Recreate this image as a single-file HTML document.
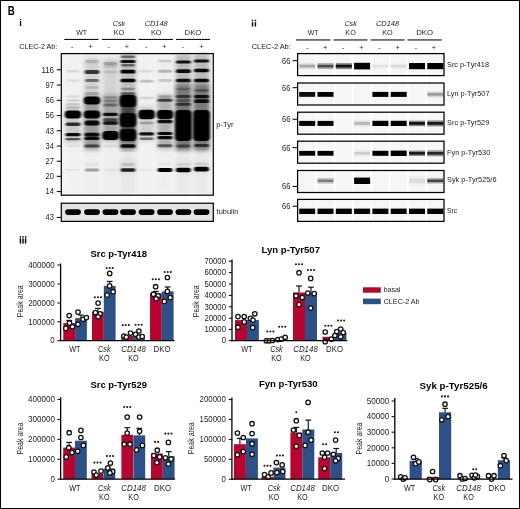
<!DOCTYPE html><html><head><meta charset="utf-8"><style>html,body{margin:0;padding:0;background:#fff;}svg{display:block;}text{font-family:"Liberation Sans",sans-serif;}</style></head><body>
<svg width="520" height="509" viewBox="0 0 520 509">
<defs><filter id="b1" x="-40%" y="-150%" width="180%" height="400%"><feGaussianBlur stdDeviation="1.0 0.6"/></filter><filter id="b2" x="-40%" y="-20%" width="180%" height="140%"><feGaussianBlur stdDeviation="2.0 2.0"/></filter><filter id="bw" x="-10%" y="-100%" width="120%" height="300%"><feGaussianBlur stdDeviation="0.45 0.75"/></filter></defs>
<rect x="0" y="0" width="520" height="509" fill="#fff"/>
<text x="7.80" y="15.40" font-size="12.2" font-weight="bold" textLength="7.00" lengthAdjust="spacingAndGlyphs" fill="#000">B</text>
<text x="19.30" y="25.80" font-size="9.4" font-weight="bold" fill="#000">i</text>
<rect x="251.78" y="19.75" width="1.45" height="1.5" fill="#000"/>
<rect x="251.78" y="22.20" width="1.45" height="4.30" fill="#000"/>
<rect x="254.68" y="19.75" width="1.45" height="1.5" fill="#000"/>
<rect x="254.68" y="22.20" width="1.45" height="4.30" fill="#000"/>
<rect x="19.70" y="236.15" width="1.40" height="1.5" fill="#000"/>
<rect x="19.70" y="238.30" width="1.40" height="5.30" fill="#000"/>
<rect x="22.30" y="236.15" width="1.40" height="1.5" fill="#000"/>
<rect x="22.30" y="238.30" width="1.40" height="5.30" fill="#000"/>
<rect x="24.90" y="236.15" width="1.40" height="1.5" fill="#000"/>
<rect x="24.90" y="238.30" width="1.40" height="5.30" fill="#000"/>
<text x="81.60" y="34.60" font-size="7.9" text-anchor="middle" textLength="10.80" lengthAdjust="spacingAndGlyphs" fill="#222">WT</text>
<rect x="64.30" y="38.90" width="34.20" height="1.1" fill="#111"/>
<text x="119.00" y="26.10" font-size="7.9" text-anchor="middle" font-style="italic" textLength="12.40" lengthAdjust="spacingAndGlyphs" fill="#222">Csk</text>
<text x="119.00" y="34.60" font-size="7.9" text-anchor="middle" textLength="10.50" lengthAdjust="spacingAndGlyphs" fill="#222">KO</text>
<rect x="102.00" y="38.90" width="33.80" height="1.1" fill="#111"/>
<text x="156.20" y="26.10" font-size="7.9" text-anchor="middle" font-style="italic" textLength="23.10" lengthAdjust="spacingAndGlyphs" fill="#222">CD148</text>
<text x="156.20" y="34.60" font-size="7.9" text-anchor="middle" textLength="10.50" lengthAdjust="spacingAndGlyphs" fill="#222">KO</text>
<rect x="138.50" y="38.90" width="34.40" height="1.1" fill="#111"/>
<text x="193.00" y="34.60" font-size="7.9" text-anchor="middle" textLength="16.80" lengthAdjust="spacingAndGlyphs" fill="#222">DKO</text>
<rect x="176.00" y="38.90" width="34.00" height="1.1" fill="#111"/>
<text x="19.20" y="48.90" font-size="8.0" textLength="38.20" lengthAdjust="spacingAndGlyphs" fill="#222">CLEC-2 Ab:</text>
<text x="72.30" y="49.00" font-size="7.4" text-anchor="middle" fill="#222">-</text>
<text x="90.70" y="49.00" font-size="7.4" text-anchor="middle" fill="#222">+</text>
<text x="108.80" y="49.00" font-size="7.4" text-anchor="middle" fill="#222">-</text>
<text x="127.00" y="49.00" font-size="7.4" text-anchor="middle" fill="#222">+</text>
<text x="146.40" y="49.00" font-size="7.4" text-anchor="middle" fill="#222">-</text>
<text x="164.50" y="49.00" font-size="7.4" text-anchor="middle" fill="#222">+</text>
<text x="183.00" y="49.00" font-size="7.4" text-anchor="middle" fill="#222">-</text>
<text x="201.30" y="49.00" font-size="7.4" text-anchor="middle" fill="#222">+</text>
<rect x="61.3" y="53.6" width="152.0" height="141.6" fill="#f3f3f3"/>
<rect x="65.50" y="54.60" width="15" height="139.60" fill="rgb(241,241,241)" filter="url(#b2)" opacity="0.8"/>
<rect x="84.50" y="54.60" width="15" height="139.60" fill="rgb(237,237,237)" filter="url(#b2)" opacity="0.8"/>
<rect x="103.00" y="54.60" width="15" height="139.60" fill="rgb(237,237,237)" filter="url(#b2)" opacity="0.8"/>
<rect x="120.50" y="54.60" width="15" height="139.60" fill="rgb(231,231,231)" filter="url(#b2)" opacity="0.8"/>
<rect x="139.10" y="54.60" width="15" height="139.60" fill="rgb(241,241,241)" filter="url(#b2)" opacity="0.8"/>
<rect x="157.50" y="54.60" width="15" height="139.60" fill="rgb(238,238,238)" filter="url(#b2)" opacity="0.8"/>
<rect x="175.90" y="54.60" width="15" height="139.60" fill="rgb(232,232,232)" filter="url(#b2)" opacity="0.8"/>
<rect x="194.00" y="54.60" width="15" height="139.60" fill="rgb(232,232,232)" filter="url(#b2)" opacity="0.8"/>
<rect x="65.50" y="106.00" width="15" height="37.00" fill="rgb(201,201,201)" filter="url(#b2)"/>
<rect x="84.50" y="58.00" width="15" height="92.00" fill="rgb(210,210,210)" filter="url(#b2)"/>
<rect x="84.50" y="95.00" width="15" height="54.00" fill="rgb(155,155,155)" filter="url(#b2)"/>
<rect x="103.00" y="58.00" width="15" height="52.00" fill="rgb(210,210,210)" filter="url(#b2)"/>
<rect x="103.00" y="95.00" width="15" height="46.00" fill="rgb(163,163,163)" filter="url(#b2)"/>
<rect x="120.50" y="54.00" width="15" height="96.00" fill="rgb(191,191,191)" filter="url(#b2)"/>
<rect x="120.50" y="95.00" width="15" height="48.00" fill="rgb(67,67,67)" filter="url(#b2)"/>
<rect x="120.50" y="143.00" width="15" height="7.00" fill="rgb(143,143,143)" filter="url(#b2)"/>
<rect x="139.10" y="106.00" width="15" height="35.00" fill="rgb(206,206,206)" filter="url(#b2)"/>
<rect x="157.50" y="95.00" width="15" height="54.00" fill="rgb(179,179,179)" filter="url(#b2)"/>
<rect x="175.90" y="54.00" width="15" height="96.00" fill="rgb(186,186,186)" filter="url(#b2)"/>
<rect x="175.90" y="84.00" width="15" height="66.00" fill="rgb(120,120,120)" filter="url(#b2)"/>
<rect x="194.00" y="54.00" width="15" height="96.00" fill="rgb(186,186,186)" filter="url(#b2)"/>
<rect x="194.00" y="84.00" width="15" height="66.00" fill="rgb(120,120,120)" filter="url(#b2)"/>
<rect x="120.50" y="160.00" width="15" height="14.00" fill="rgb(220,220,220)" filter="url(#b2)"/>
<rect x="175.90" y="160.00" width="15" height="14.00" fill="rgb(225,225,225)" filter="url(#b2)"/>
<rect x="194.00" y="160.00" width="15" height="14.00" fill="rgb(225,225,225)" filter="url(#b2)"/>
<rect x="66.00" y="69.95" width="14.00" height="2.50" rx="1.25" fill="rgb(231,231,231)" filter="url(#b1)" style="mix-blend-mode:multiply"/>
<rect x="66.00" y="79.25" width="14.00" height="2.50" rx="1.25" fill="rgb(235,235,235)" filter="url(#b1)" style="mix-blend-mode:multiply"/>
<rect x="66.00" y="95.35" width="14.00" height="2.50" rx="1.25" fill="rgb(231,231,231)" filter="url(#b1)" style="mix-blend-mode:multiply"/>
<rect x="66.00" y="99.25" width="14.00" height="2.50" rx="1.25" fill="rgb(222,222,222)" filter="url(#b1)" style="mix-blend-mode:multiply"/>
<rect x="66.00" y="103.05" width="14.00" height="2.50" rx="1.25" fill="rgb(218,218,218)" filter="url(#b1)" style="mix-blend-mode:multiply"/>
<rect x="66.00" y="106.40" width="14.00" height="2.00" rx="1.00" fill="rgb(214,214,214)" filter="url(#b1)" style="mix-blend-mode:multiply"/>
<rect x="64.75" y="110.40" width="16.50" height="8.00" rx="4.00" fill="rgb(0,0,0)" filter="url(#b1)" style="mix-blend-mode:multiply"/>
<rect x="65.50" y="122.40" width="15.00" height="3.60" rx="1.80" fill="rgb(56,56,56)" filter="url(#b1)" style="mix-blend-mode:multiply"/>
<rect x="65.50" y="133.00" width="15.00" height="3.20" rx="1.60" fill="rgb(12,12,12)" filter="url(#b1)" style="mix-blend-mode:multiply"/>
<rect x="65.50" y="138.10" width="15.00" height="2.20" rx="1.10" fill="rgb(102,102,102)" filter="url(#b1)" style="mix-blend-mode:multiply"/>
<rect x="66.00" y="145.00" width="14.00" height="2.00" rx="1.00" fill="rgb(239,239,239)" filter="url(#b1)" style="mix-blend-mode:multiply"/>
<rect x="66.00" y="169.00" width="14.00" height="2.00" rx="1.00" fill="rgb(243,243,243)" filter="url(#b1)" style="mix-blend-mode:multiply"/>
<rect x="85.00" y="59.75" width="14.00" height="3.50" rx="1.75" fill="rgb(214,214,214)" filter="url(#b1)" style="mix-blend-mode:multiply"/>
<rect x="84.50" y="69.90" width="15.00" height="4.20" rx="2.10" fill="rgb(64,64,64)" filter="url(#b1)" style="mix-blend-mode:multiply"/>
<rect x="85.00" y="79.00" width="14.00" height="3.00" rx="1.50" fill="rgb(128,128,128)" filter="url(#b1)" style="mix-blend-mode:multiply"/>
<rect x="85.00" y="86.15" width="14.00" height="2.50" rx="1.25" fill="rgb(218,218,218)" filter="url(#b1)" style="mix-blend-mode:multiply"/>
<rect x="85.00" y="92.25" width="14.00" height="2.50" rx="1.25" fill="rgb(204,204,204)" filter="url(#b1)" style="mix-blend-mode:multiply"/>
<rect x="83.75" y="96.60" width="16.50" height="8.00" rx="4.00" fill="rgb(0,0,0)" filter="url(#b1)" style="mix-blend-mode:multiply"/>
<rect x="83.75" y="110.40" width="16.50" height="8.00" rx="4.00" fill="rgb(0,0,0)" filter="url(#b1)" style="mix-blend-mode:multiply"/>
<rect x="84.50" y="120.50" width="15.00" height="5.00" rx="2.50" fill="rgb(13,13,13)" filter="url(#b1)" style="mix-blend-mode:multiply"/>
<rect x="84.50" y="132.75" width="15.00" height="3.70" rx="1.85" fill="rgb(12,12,12)" filter="url(#b1)" style="mix-blend-mode:multiply"/>
<rect x="84.50" y="136.80" width="15.00" height="3.20" rx="1.60" fill="rgb(17,17,17)" filter="url(#b1)" style="mix-blend-mode:multiply"/>
<rect x="84.50" y="144.50" width="15.00" height="3.00" rx="1.50" fill="rgb(102,102,102)" filter="url(#b1)" style="mix-blend-mode:multiply"/>
<rect x="85.00" y="163.35" width="14.00" height="2.50" rx="1.25" fill="rgb(243,243,243)" filter="url(#b1)" style="mix-blend-mode:multiply"/>
<rect x="85.00" y="168.50" width="14.00" height="3.00" rx="1.50" fill="rgb(169,169,169)" filter="url(#b1)" style="mix-blend-mode:multiply"/>
<rect x="103.50" y="62.05" width="14.00" height="3.50" rx="1.75" fill="rgb(190,190,190)" filter="url(#b1)" style="mix-blend-mode:multiply"/>
<rect x="103.50" y="65.80" width="14.00" height="2.00" rx="1.00" fill="rgb(224,224,224)" filter="url(#b1)" style="mix-blend-mode:multiply"/>
<rect x="103.50" y="70.75" width="14.00" height="2.50" rx="1.25" fill="rgb(224,224,224)" filter="url(#b1)" style="mix-blend-mode:multiply"/>
<rect x="103.50" y="96.15" width="14.00" height="2.50" rx="1.25" fill="rgb(204,204,204)" filter="url(#b1)" style="mix-blend-mode:multiply"/>
<rect x="103.50" y="99.75" width="14.00" height="2.50" rx="1.25" fill="rgb(184,184,184)" filter="url(#b1)" style="mix-blend-mode:multiply"/>
<rect x="103.50" y="103.50" width="14.00" height="3.00" rx="1.50" fill="rgb(157,157,157)" filter="url(#b1)" style="mix-blend-mode:multiply"/>
<rect x="103.00" y="112.80" width="15.00" height="3.20" rx="1.60" fill="rgb(25,25,25)" filter="url(#b1)" style="mix-blend-mode:multiply"/>
<rect x="103.00" y="118.20" width="15.00" height="3.00" rx="1.50" fill="rgb(102,102,102)" filter="url(#b1)" style="mix-blend-mode:multiply"/>
<rect x="103.00" y="121.15" width="15.00" height="3.70" rx="1.85" fill="rgb(25,25,25)" filter="url(#b1)" style="mix-blend-mode:multiply"/>
<rect x="102.25" y="130.90" width="16.50" height="9.00" rx="4.00" fill="rgb(0,0,0)" filter="url(#b1)" style="mix-blend-mode:multiply"/>
<rect x="103.50" y="144.75" width="14.00" height="2.50" rx="1.25" fill="rgb(231,231,231)" filter="url(#b1)" style="mix-blend-mode:multiply"/>
<rect x="103.50" y="168.75" width="14.00" height="2.50" rx="1.25" fill="rgb(241,241,241)" filter="url(#b1)" style="mix-blend-mode:multiply"/>
<rect x="121.00" y="55.55" width="14.00" height="2.50" rx="1.25" fill="rgb(128,128,128)" filter="url(#b1)" style="mix-blend-mode:multiply"/>
<rect x="120.50" y="59.90" width="15.00" height="3.20" rx="1.60" fill="rgb(17,17,17)" filter="url(#b1)" style="mix-blend-mode:multiply"/>
<rect x="121.00" y="63.95" width="14.00" height="2.50" rx="1.25" fill="rgb(128,128,128)" filter="url(#b1)" style="mix-blend-mode:multiply"/>
<rect x="120.50" y="69.85" width="15.00" height="3.70" rx="1.85" fill="rgb(6,6,6)" filter="url(#b1)" style="mix-blend-mode:multiply"/>
<rect x="120.50" y="78.65" width="15.00" height="3.70" rx="1.85" fill="rgb(6,6,6)" filter="url(#b1)" style="mix-blend-mode:multiply"/>
<rect x="121.00" y="87.75" width="14.00" height="2.50" rx="1.25" fill="rgb(184,184,184)" filter="url(#b1)" style="mix-blend-mode:multiply"/>
<rect x="121.00" y="92.25" width="14.00" height="2.50" rx="1.25" fill="rgb(128,128,128)" filter="url(#b1)" style="mix-blend-mode:multiply"/>
<rect x="119.75" y="95.00" width="16.50" height="12.00" rx="4.00" fill="rgb(0,0,0)" filter="url(#b1)" style="mix-blend-mode:multiply"/>
<rect x="119.75" y="113.00" width="16.50" height="14.00" rx="4.00" fill="rgb(0,0,0)" filter="url(#b1)" style="mix-blend-mode:multiply"/>
<rect x="119.75" y="129.00" width="16.50" height="12.00" rx="4.00" fill="rgb(0,0,0)" filter="url(#b1)" style="mix-blend-mode:multiply"/>
<rect x="120.50" y="144.15" width="15.00" height="3.70" rx="1.85" fill="rgb(17,17,17)" filter="url(#b1)" style="mix-blend-mode:multiply"/>
<rect x="121.00" y="163.10" width="14.00" height="3.00" rx="1.50" fill="rgb(224,224,224)" filter="url(#b1)" style="mix-blend-mode:multiply"/>
<rect x="120.50" y="168.15" width="15.00" height="3.70" rx="1.85" fill="rgb(33,33,33)" filter="url(#b1)" style="mix-blend-mode:multiply"/>
<rect x="139.60" y="69.95" width="14.00" height="2.50" rx="1.25" fill="rgb(231,231,231)" filter="url(#b1)" style="mix-blend-mode:multiply"/>
<rect x="139.60" y="79.70" width="14.00" height="3.00" rx="1.50" fill="rgb(204,204,204)" filter="url(#b1)" style="mix-blend-mode:multiply"/>
<rect x="139.60" y="96.75" width="14.00" height="2.50" rx="1.25" fill="rgb(224,224,224)" filter="url(#b1)" style="mix-blend-mode:multiply"/>
<rect x="138.35" y="109.65" width="16.50" height="9.50" rx="4.00" fill="rgb(0,0,0)" filter="url(#b1)" style="mix-blend-mode:multiply"/>
<rect x="139.60" y="121.75" width="14.00" height="2.50" rx="1.25" fill="rgb(194,194,194)" filter="url(#b1)" style="mix-blend-mode:multiply"/>
<rect x="139.10" y="132.20" width="15.00" height="3.20" rx="1.60" fill="rgb(25,25,25)" filter="url(#b1)" style="mix-blend-mode:multiply"/>
<rect x="139.60" y="137.55" width="14.00" height="2.50" rx="1.25" fill="rgb(128,128,128)" filter="url(#b1)" style="mix-blend-mode:multiply"/>
<rect x="139.60" y="169.00" width="14.00" height="2.00" rx="1.00" fill="rgb(243,243,243)" filter="url(#b1)" style="mix-blend-mode:multiply"/>
<rect x="158.00" y="59.75" width="14.00" height="2.50" rx="1.25" fill="rgb(214,214,214)" filter="url(#b1)" style="mix-blend-mode:multiply"/>
<rect x="158.00" y="69.70" width="14.00" height="3.00" rx="1.50" fill="rgb(194,194,194)" filter="url(#b1)" style="mix-blend-mode:multiply"/>
<rect x="158.00" y="79.00" width="14.00" height="3.00" rx="1.50" fill="rgb(214,214,214)" filter="url(#b1)" style="mix-blend-mode:multiply"/>
<rect x="158.00" y="95.35" width="14.00" height="2.50" rx="1.25" fill="rgb(204,204,204)" filter="url(#b1)" style="mix-blend-mode:multiply"/>
<rect x="157.50" y="98.70" width="15.00" height="3.00" rx="1.50" fill="rgb(89,89,89)" filter="url(#b1)" style="mix-blend-mode:multiply"/>
<rect x="156.75" y="109.90" width="16.50" height="9.00" rx="4.00" fill="rgb(0,0,0)" filter="url(#b1)" style="mix-blend-mode:multiply"/>
<rect x="157.50" y="119.65" width="15.00" height="3.70" rx="1.85" fill="rgb(25,25,25)" filter="url(#b1)" style="mix-blend-mode:multiply"/>
<rect x="157.50" y="131.90" width="15.00" height="3.20" rx="1.60" fill="rgb(12,12,12)" filter="url(#b1)" style="mix-blend-mode:multiply"/>
<rect x="157.50" y="136.10" width="15.00" height="3.20" rx="1.60" fill="rgb(17,17,17)" filter="url(#b1)" style="mix-blend-mode:multiply"/>
<rect x="157.50" y="144.30" width="15.00" height="3.00" rx="1.50" fill="rgb(115,115,115)" filter="url(#b1)" style="mix-blend-mode:multiply"/>
<rect x="158.00" y="162.75" width="14.00" height="2.50" rx="1.25" fill="rgb(243,243,243)" filter="url(#b1)" style="mix-blend-mode:multiply"/>
<rect x="157.50" y="168.00" width="15.00" height="4.00" rx="2.00" fill="rgb(0,0,0)" filter="url(#b1)" style="mix-blend-mode:multiply"/>
<rect x="175.90" y="60.40" width="15.00" height="3.20" rx="1.60" fill="rgb(25,25,25)" filter="url(#b1)" style="mix-blend-mode:multiply"/>
<rect x="175.90" y="69.35" width="15.00" height="3.70" rx="1.85" fill="rgb(12,12,12)" filter="url(#b1)" style="mix-blend-mode:multiply"/>
<rect x="175.90" y="78.65" width="15.00" height="3.70" rx="1.85" fill="rgb(25,25,25)" filter="url(#b1)" style="mix-blend-mode:multiply"/>
<rect x="176.40" y="87.75" width="14.00" height="2.50" rx="1.25" fill="rgb(194,194,194)" filter="url(#b1)" style="mix-blend-mode:multiply"/>
<rect x="175.90" y="95.10" width="15.00" height="3.00" rx="1.50" fill="rgb(102,102,102)" filter="url(#b1)" style="mix-blend-mode:multiply"/>
<rect x="176.40" y="99.25" width="14.00" height="2.50" rx="1.25" fill="rgb(163,163,163)" filter="url(#b1)" style="mix-blend-mode:multiply"/>
<rect x="175.90" y="102.80" width="15.00" height="3.00" rx="1.50" fill="rgb(102,102,102)" filter="url(#b1)" style="mix-blend-mode:multiply"/>
<rect x="175.15" y="110.00" width="16.50" height="31.00" rx="4.00" fill="rgb(0,0,0)" filter="url(#b1)" style="mix-blend-mode:multiply"/>
<rect x="176.40" y="144.50" width="14.00" height="3.00" rx="1.50" fill="rgb(128,128,128)" filter="url(#b1)" style="mix-blend-mode:multiply"/>
<rect x="176.40" y="163.35" width="14.00" height="2.50" rx="1.25" fill="rgb(235,235,235)" filter="url(#b1)" style="mix-blend-mode:multiply"/>
<rect x="175.90" y="167.80" width="15.00" height="4.40" rx="2.20" fill="rgb(0,0,0)" filter="url(#b1)" style="mix-blend-mode:multiply"/>
<rect x="194.00" y="59.40" width="15.00" height="3.20" rx="1.60" fill="rgb(25,25,25)" filter="url(#b1)" style="mix-blend-mode:multiply"/>
<rect x="194.00" y="68.65" width="15.00" height="3.70" rx="1.85" fill="rgb(12,12,12)" filter="url(#b1)" style="mix-blend-mode:multiply"/>
<rect x="194.00" y="78.65" width="15.00" height="3.70" rx="1.85" fill="rgb(12,12,12)" filter="url(#b1)" style="mix-blend-mode:multiply"/>
<rect x="194.50" y="89.25" width="14.00" height="2.50" rx="1.25" fill="rgb(163,163,163)" filter="url(#b1)" style="mix-blend-mode:multiply"/>
<rect x="194.00" y="95.00" width="15.00" height="3.20" rx="1.60" fill="rgb(25,25,25)" filter="url(#b1)" style="mix-blend-mode:multiply"/>
<rect x="194.00" y="99.35" width="15.00" height="3.70" rx="1.85" fill="rgb(25,25,25)" filter="url(#b1)" style="mix-blend-mode:multiply"/>
<rect x="193.25" y="110.00" width="16.50" height="31.00" rx="4.00" fill="rgb(0,0,0)" filter="url(#b1)" style="mix-blend-mode:multiply"/>
<rect x="194.00" y="143.90" width="15.00" height="3.00" rx="1.50" fill="rgb(89,89,89)" filter="url(#b1)" style="mix-blend-mode:multiply"/>
<rect x="194.50" y="162.75" width="14.00" height="2.50" rx="1.25" fill="rgb(231,231,231)" filter="url(#b1)" style="mix-blend-mode:multiply"/>
<rect x="194.00" y="166.80" width="15.00" height="4.80" rx="2.40" fill="rgb(0,0,0)" filter="url(#b1)" style="mix-blend-mode:multiply"/>
<rect x="61.3" y="53.6" width="152.0" height="141.6" fill="none" stroke="#000" stroke-width="1.2"/>
<rect x="56.8" y="69.30" width="4.4" height="1.1" fill="#111"/>
<text x="54.00" y="72.70" font-size="8.2" text-anchor="end" textLength="12.60" lengthAdjust="spacingAndGlyphs" fill="#222">116</text>
<rect x="56.8" y="84.50" width="4.4" height="1.1" fill="#111"/>
<text x="54.00" y="87.90" font-size="8.2" text-anchor="end" textLength="8.40" lengthAdjust="spacingAndGlyphs" fill="#222">97</text>
<rect x="56.8" y="99.80" width="4.4" height="1.1" fill="#111"/>
<text x="54.00" y="103.20" font-size="8.2" text-anchor="end" textLength="8.40" lengthAdjust="spacingAndGlyphs" fill="#222">66</text>
<rect x="56.8" y="115.00" width="4.4" height="1.1" fill="#111"/>
<text x="54.00" y="118.40" font-size="8.2" text-anchor="end" textLength="8.40" lengthAdjust="spacingAndGlyphs" fill="#222">56</text>
<rect x="56.8" y="130.20" width="4.4" height="1.1" fill="#111"/>
<text x="54.00" y="133.60" font-size="8.2" text-anchor="end" textLength="8.40" lengthAdjust="spacingAndGlyphs" fill="#222">43</text>
<rect x="56.8" y="145.50" width="4.4" height="1.1" fill="#111"/>
<text x="54.00" y="148.90" font-size="8.2" text-anchor="end" textLength="8.40" lengthAdjust="spacingAndGlyphs" fill="#222">34</text>
<rect x="56.8" y="160.70" width="4.4" height="1.1" fill="#111"/>
<text x="54.00" y="164.10" font-size="8.2" text-anchor="end" textLength="8.40" lengthAdjust="spacingAndGlyphs" fill="#222">27</text>
<rect x="56.8" y="175.80" width="4.4" height="1.1" fill="#111"/>
<text x="54.00" y="179.20" font-size="8.2" text-anchor="end" textLength="8.40" lengthAdjust="spacingAndGlyphs" fill="#222">20</text>
<rect x="56.8" y="191.00" width="4.4" height="1.1" fill="#111"/>
<text x="54.00" y="194.40" font-size="8.2" text-anchor="end" textLength="8.40" lengthAdjust="spacingAndGlyphs" fill="#222">14</text>
<text x="216.30" y="127.00" font-size="7.4" textLength="17.20" lengthAdjust="spacingAndGlyphs" fill="#222">p-Tyr</text>
<rect x="61.3" y="203.2" width="152.0" height="18.200000000000017" fill="#e3e3e3"/>
<rect x="65.10" y="209.30" width="15.80" height="5.60" rx="2.80" fill="rgb(0,0,0)" filter="url(#bw)" style="mix-blend-mode:multiply"/>
<rect x="84.10" y="209.30" width="15.80" height="5.60" rx="2.80" fill="rgb(0,0,0)" filter="url(#bw)" style="mix-blend-mode:multiply"/>
<rect x="102.60" y="209.30" width="15.80" height="5.60" rx="2.80" fill="rgb(0,0,0)" filter="url(#bw)" style="mix-blend-mode:multiply"/>
<rect x="120.10" y="209.30" width="15.80" height="5.60" rx="2.80" fill="rgb(0,0,0)" filter="url(#bw)" style="mix-blend-mode:multiply"/>
<rect x="138.70" y="209.30" width="15.80" height="5.60" rx="2.80" fill="rgb(0,0,0)" filter="url(#bw)" style="mix-blend-mode:multiply"/>
<rect x="157.10" y="209.30" width="15.80" height="5.60" rx="2.80" fill="rgb(0,0,0)" filter="url(#bw)" style="mix-blend-mode:multiply"/>
<rect x="175.50" y="209.30" width="15.80" height="5.60" rx="2.80" fill="rgb(0,0,0)" filter="url(#bw)" style="mix-blend-mode:multiply"/>
<rect x="193.60" y="209.30" width="15.80" height="5.60" rx="2.80" fill="rgb(0,0,0)" filter="url(#bw)" style="mix-blend-mode:multiply"/>
<rect x="61.3" y="203.2" width="152.0" height="18.200000000000017" fill="none" stroke="#000" stroke-width="1.2"/>
<rect x="56.8" y="216.9" width="4.4" height="1.1" fill="#111"/>
<text x="54.00" y="220.10" font-size="8.2" text-anchor="end" textLength="8.40" lengthAdjust="spacingAndGlyphs" fill="#222">43</text>
<text x="216.60" y="214.20" font-size="7.4" textLength="21.90" lengthAdjust="spacingAndGlyphs" fill="#222">tubulin</text>
<text x="313.10" y="35.20" font-size="7.9" text-anchor="middle" textLength="10.80" lengthAdjust="spacingAndGlyphs" fill="#222">WT</text>
<rect x="296.00" y="39.40" width="34.60" height="1.1" fill="#111"/>
<text x="350.60" y="26.10" font-size="7.9" text-anchor="middle" font-style="italic" textLength="12.40" lengthAdjust="spacingAndGlyphs" fill="#222">Csk</text>
<text x="350.60" y="35.20" font-size="7.9" text-anchor="middle" textLength="10.50" lengthAdjust="spacingAndGlyphs" fill="#222">KO</text>
<rect x="333.70" y="39.40" width="33.80" height="1.1" fill="#111"/>
<text x="387.50" y="26.10" font-size="7.9" text-anchor="middle" font-style="italic" textLength="23.10" lengthAdjust="spacingAndGlyphs" fill="#222">CD148</text>
<text x="387.50" y="35.20" font-size="7.9" text-anchor="middle" textLength="10.50" lengthAdjust="spacingAndGlyphs" fill="#222">KO</text>
<rect x="370.60" y="39.40" width="33.90" height="1.1" fill="#111"/>
<text x="424.60" y="35.20" font-size="7.9" text-anchor="middle" textLength="16.80" lengthAdjust="spacingAndGlyphs" fill="#222">DKO</text>
<rect x="407.50" y="39.40" width="34.20" height="1.1" fill="#111"/>
<text x="251.70" y="49.40" font-size="8.0" textLength="39.10" lengthAdjust="spacingAndGlyphs" fill="#222">CLEC-2 Ab:</text>
<text x="307.60" y="49.60" font-size="7.4" text-anchor="middle" fill="#222">-</text>
<text x="325.20" y="49.60" font-size="7.4" text-anchor="middle" fill="#222">+</text>
<text x="343.20" y="49.60" font-size="7.4" text-anchor="middle" fill="#222">-</text>
<text x="361.40" y="49.60" font-size="7.4" text-anchor="middle" fill="#222">+</text>
<text x="379.40" y="49.60" font-size="7.4" text-anchor="middle" fill="#222">-</text>
<text x="397.70" y="49.60" font-size="7.4" text-anchor="middle" fill="#222">+</text>
<text x="416.00" y="49.60" font-size="7.4" text-anchor="middle" fill="#222">-</text>
<text x="433.80" y="49.60" font-size="7.4" text-anchor="middle" fill="#222">+</text>
<rect x="297.6" y="53.6" width="146.39999999999998" height="22.0" fill="#fdfdfd"/>
<rect x="299.20" y="54.60" width="16.0" height="20.0" fill="#f6f6f6"/>
<rect x="299.20" y="63.20" width="16.0" height="5.80" fill="rgb(219,219,219)" filter="url(#bw)"/>
<rect x="299.20" y="64.83" width="16.0" height="2.53" fill="rgb(194,194,194)" filter="url(#bw)" style="mix-blend-mode:multiply"/>
<rect x="317.50" y="54.60" width="16.0" height="20.0" fill="#f6f6f6"/>
<rect x="317.50" y="63.10" width="16.0" height="6.00" fill="rgb(176,176,176)" filter="url(#bw)"/>
<rect x="317.50" y="64.78" width="16.0" height="2.64" fill="rgb(109,109,109)" filter="url(#bw)" style="mix-blend-mode:multiply"/>
<rect x="335.80" y="54.60" width="16.0" height="20.0" fill="#f6f6f6"/>
<rect x="335.80" y="63.10" width="16.0" height="6.00" fill="rgb(134,134,134)" filter="url(#bw)"/>
<rect x="335.80" y="64.78" width="16.0" height="2.64" fill="rgb(24,24,24)" filter="url(#bw)" style="mix-blend-mode:multiply"/>
<rect x="354.10" y="54.60" width="16.0" height="20.0" fill="#f6f6f6"/>
<rect x="354.10" y="62.80" width="16.0" height="6.60" fill="rgb(0,0,0)" filter="url(#bw)"/>
<rect x="372.40" y="54.60" width="16.0" height="20.0" fill="#f6f6f6"/>
<rect x="372.40" y="63.30" width="16.0" height="5.60" fill="rgb(241,241,241)" filter="url(#bw)"/>
<rect x="372.40" y="64.89" width="16.0" height="2.42" fill="rgb(239,239,239)" filter="url(#bw)" style="mix-blend-mode:multiply"/>
<rect x="390.70" y="54.60" width="16.0" height="20.0" fill="#f6f6f6"/>
<rect x="390.70" y="63.30" width="16.0" height="5.60" fill="rgb(238,238,238)" filter="url(#bw)"/>
<rect x="390.70" y="64.89" width="16.0" height="2.42" fill="rgb(233,233,233)" filter="url(#bw)" style="mix-blend-mode:multiply"/>
<rect x="409.00" y="54.60" width="16.0" height="20.0" fill="#f6f6f6"/>
<rect x="409.00" y="63.00" width="16.0" height="6.20" fill="rgb(0,0,0)" filter="url(#bw)"/>
<rect x="427.30" y="54.60" width="16.0" height="20.0" fill="#f6f6f6"/>
<rect x="427.30" y="63.00" width="16.0" height="6.20" fill="rgb(0,0,0)" filter="url(#bw)"/>
<rect x="297.6" y="53.6" width="146.39999999999998" height="22.0" fill="none" stroke="#000" stroke-width="1.25"/>
<rect x="292.6" y="60.10" width="4.6" height="1.1" fill="#111"/>
<text x="290.40" y="63.50" font-size="8.2" text-anchor="end" textLength="8.40" lengthAdjust="spacingAndGlyphs" fill="#222">66</text>
<text x="447.00" y="67.00" font-size="7.8" textLength="42.00" lengthAdjust="spacingAndGlyphs" fill="#222">Src p-Tyr418</text>
<rect x="297.6" y="83.0" width="146.39999999999998" height="22.0" fill="#fdfdfd"/>
<rect x="299.20" y="84.00" width="16.0" height="20.0" fill="#f6f6f6"/>
<rect x="299.20" y="92.00" width="16.0" height="4.80" fill="rgb(7,7,7)" filter="url(#bw)"/>
<rect x="317.50" y="84.00" width="16.0" height="20.0" fill="#f6f6f6"/>
<rect x="317.50" y="92.00" width="16.0" height="4.80" fill="rgb(0,0,0)" filter="url(#bw)"/>
<rect x="335.80" y="84.00" width="16.0" height="20.0" fill="#f6f6f6"/>
<rect x="354.10" y="84.00" width="16.0" height="20.0" fill="#f6f6f6"/>
<rect x="372.40" y="84.00" width="16.0" height="20.0" fill="#f6f6f6"/>
<rect x="372.40" y="91.90" width="16.0" height="5.00" fill="rgb(0,0,0)" filter="url(#bw)"/>
<rect x="390.70" y="84.00" width="16.0" height="20.0" fill="#f6f6f6"/>
<rect x="390.70" y="91.90" width="16.0" height="5.00" fill="rgb(0,0,0)" filter="url(#bw)"/>
<rect x="409.00" y="84.00" width="16.0" height="20.0" fill="#f6f6f6"/>
<rect x="427.30" y="84.00" width="16.0" height="20.0" fill="#f6f6f6"/>
<rect x="427.30" y="91.50" width="16.0" height="5.80" fill="rgb(213,213,213)" filter="url(#bw)"/>
<rect x="427.30" y="93.14" width="16.0" height="2.53" fill="rgb(182,182,182)" filter="url(#bw)" style="mix-blend-mode:multiply"/>
<rect x="297.6" y="83.0" width="146.39999999999998" height="22.0" fill="none" stroke="#000" stroke-width="1.25"/>
<rect x="292.6" y="87.10" width="4.6" height="1.1" fill="#111"/>
<text x="290.40" y="90.50" font-size="8.2" text-anchor="end" textLength="8.40" lengthAdjust="spacingAndGlyphs" fill="#222">66</text>
<text x="447.00" y="95.60" font-size="7.8" textLength="42.50" lengthAdjust="spacingAndGlyphs" fill="#222">Lyn p-Tyr507</text>
<rect x="297.6" y="112.2" width="146.39999999999998" height="22.0" fill="#fdfdfd"/>
<rect x="299.20" y="113.20" width="16.0" height="20.0" fill="#f6f6f6"/>
<rect x="299.20" y="120.90" width="16.0" height="5.00" fill="rgb(0,0,0)" filter="url(#bw)"/>
<rect x="317.50" y="113.20" width="16.0" height="20.0" fill="#f6f6f6"/>
<rect x="317.50" y="120.90" width="16.0" height="5.00" fill="rgb(0,0,0)" filter="url(#bw)"/>
<rect x="335.80" y="113.20" width="16.0" height="20.0" fill="#f6f6f6"/>
<rect x="354.10" y="113.20" width="16.0" height="20.0" fill="#f6f6f6"/>
<rect x="354.10" y="120.40" width="16.0" height="6.00" fill="rgb(225,225,225)" filter="url(#bw)"/>
<rect x="354.10" y="122.08" width="16.0" height="2.64" fill="rgb(207,207,207)" filter="url(#bw)" style="mix-blend-mode:multiply"/>
<rect x="372.40" y="113.20" width="16.0" height="20.0" fill="#f6f6f6"/>
<rect x="372.40" y="120.80" width="16.0" height="5.20" fill="rgb(0,0,0)" filter="url(#bw)"/>
<rect x="390.70" y="113.20" width="16.0" height="20.0" fill="#f6f6f6"/>
<rect x="390.70" y="120.80" width="16.0" height="5.20" fill="rgb(0,0,0)" filter="url(#bw)"/>
<rect x="409.00" y="113.20" width="16.0" height="20.0" fill="#f6f6f6"/>
<rect x="409.00" y="120.70" width="16.0" height="5.40" fill="rgb(128,128,128)" filter="url(#bw)"/>
<rect x="409.00" y="122.25" width="16.0" height="2.31" fill="rgb(12,12,12)" filter="url(#bw)" style="mix-blend-mode:multiply"/>
<rect x="427.30" y="113.20" width="16.0" height="20.0" fill="#f6f6f6"/>
<rect x="427.30" y="120.40" width="16.0" height="6.00" fill="rgb(140,140,140)" filter="url(#bw)"/>
<rect x="427.30" y="122.08" width="16.0" height="2.64" fill="rgb(36,36,36)" filter="url(#bw)" style="mix-blend-mode:multiply"/>
<rect x="297.6" y="112.2" width="146.39999999999998" height="22.0" fill="none" stroke="#000" stroke-width="1.25"/>
<rect x="292.6" y="118.70" width="4.6" height="1.1" fill="#111"/>
<text x="290.40" y="122.10" font-size="8.2" text-anchor="end" textLength="8.40" lengthAdjust="spacingAndGlyphs" fill="#222">66</text>
<text x="447.00" y="124.60" font-size="7.8" textLength="42.30" lengthAdjust="spacingAndGlyphs" fill="#222">Src p-Tyr529</text>
<rect x="297.6" y="141.2" width="146.39999999999998" height="22.0" fill="#fdfdfd"/>
<rect x="299.20" y="142.20" width="16.0" height="20.0" fill="#f6f6f6"/>
<rect x="299.20" y="150.90" width="16.0" height="4.80" fill="rgb(0,0,0)" filter="url(#bw)"/>
<rect x="317.50" y="142.20" width="16.0" height="20.0" fill="#f6f6f6"/>
<rect x="317.50" y="150.90" width="16.0" height="4.80" fill="rgb(0,0,0)" filter="url(#bw)"/>
<rect x="335.80" y="142.20" width="16.0" height="20.0" fill="#f6f6f6"/>
<rect x="354.10" y="142.20" width="16.0" height="20.0" fill="#f6f6f6"/>
<rect x="354.10" y="150.30" width="16.0" height="6.00" fill="rgb(233,233,233)" filter="url(#bw)"/>
<rect x="354.10" y="151.98" width="16.0" height="2.64" fill="rgb(224,224,224)" filter="url(#bw)" style="mix-blend-mode:multiply"/>
<rect x="372.40" y="142.20" width="16.0" height="20.0" fill="#f6f6f6"/>
<rect x="372.40" y="150.80" width="16.0" height="5.00" fill="rgb(0,0,0)" filter="url(#bw)"/>
<rect x="390.70" y="142.20" width="16.0" height="20.0" fill="#f6f6f6"/>
<rect x="390.70" y="150.60" width="16.0" height="5.40" fill="rgb(0,0,0)" filter="url(#bw)"/>
<rect x="409.00" y="142.20" width="16.0" height="20.0" fill="#f6f6f6"/>
<rect x="409.00" y="150.60" width="16.0" height="5.40" fill="rgb(134,134,134)" filter="url(#bw)"/>
<rect x="409.00" y="152.15" width="16.0" height="2.31" fill="rgb(24,24,24)" filter="url(#bw)" style="mix-blend-mode:multiply"/>
<rect x="427.30" y="142.20" width="16.0" height="20.0" fill="#f6f6f6"/>
<rect x="427.30" y="150.30" width="16.0" height="6.00" fill="rgb(152,152,152)" filter="url(#bw)"/>
<rect x="427.30" y="151.98" width="16.0" height="2.64" fill="rgb(61,61,61)" filter="url(#bw)" style="mix-blend-mode:multiply"/>
<rect x="297.6" y="141.2" width="146.39999999999998" height="22.0" fill="none" stroke="#000" stroke-width="1.25"/>
<rect x="292.6" y="147.10" width="4.6" height="1.1" fill="#111"/>
<text x="290.40" y="150.50" font-size="8.2" text-anchor="end" textLength="8.40" lengthAdjust="spacingAndGlyphs" fill="#222">66</text>
<text x="447.00" y="154.50" font-size="7.8" textLength="43.30" lengthAdjust="spacingAndGlyphs" fill="#222">Fyn p-Tyr530</text>
<rect x="297.6" y="170.5" width="146.39999999999998" height="22.0" fill="#fdfdfd"/>
<rect x="299.20" y="171.50" width="16.0" height="20.0" fill="#f6f6f6"/>
<rect x="317.50" y="171.50" width="16.0" height="20.0" fill="#f6f6f6"/>
<rect x="317.50" y="177.90" width="16.0" height="5.80" fill="rgb(200,200,200)" filter="url(#bw)"/>
<rect x="317.50" y="179.54" width="16.0" height="2.53" fill="rgb(158,158,158)" filter="url(#bw)" style="mix-blend-mode:multiply"/>
<rect x="335.80" y="171.50" width="16.0" height="20.0" fill="#f6f6f6"/>
<rect x="354.10" y="171.50" width="16.0" height="20.0" fill="#f6f6f6"/>
<rect x="354.10" y="177.60" width="16.0" height="6.40" fill="rgb(0,0,0)" filter="url(#bw)"/>
<rect x="372.40" y="171.50" width="16.0" height="20.0" fill="#f6f6f6"/>
<rect x="390.70" y="171.50" width="16.0" height="20.0" fill="#f6f6f6"/>
<rect x="409.00" y="171.50" width="16.0" height="20.0" fill="#f6f6f6"/>
<rect x="409.00" y="176.00" width="16.0" height="9.60" fill="rgb(239,239,239)" filter="url(#bw)"/>
<rect x="409.00" y="178.49" width="16.0" height="4.62" fill="rgb(236,236,236)" filter="url(#bw)" style="mix-blend-mode:multiply"/>
<rect x="427.30" y="171.50" width="16.0" height="20.0" fill="#f6f6f6"/>
<rect x="427.30" y="178.10" width="16.0" height="5.40" fill="rgb(170,170,170)" filter="url(#bw)"/>
<rect x="427.30" y="179.65" width="16.0" height="2.31" fill="rgb(97,97,97)" filter="url(#bw)" style="mix-blend-mode:multiply"/>
<rect x="297.6" y="170.5" width="146.39999999999998" height="22.0" fill="none" stroke="#000" stroke-width="1.25"/>
<rect x="292.6" y="185.90" width="4.6" height="1.1" fill="#111"/>
<text x="290.40" y="189.30" font-size="8.2" text-anchor="end" textLength="8.40" lengthAdjust="spacingAndGlyphs" fill="#222">66</text>
<text x="447.00" y="182.00" font-size="7.8" textLength="49.50" lengthAdjust="spacingAndGlyphs" fill="#222">Syk p-Tyr525/6</text>
<rect x="297.6" y="199.4" width="146.39999999999998" height="22.0" fill="#fdfdfd"/>
<rect x="299.20" y="200.40" width="16.0" height="20.0" fill="#f6f6f6"/>
<rect x="299.20" y="208.60" width="16.0" height="5.40" fill="rgb(0,0,0)" filter="url(#bw)"/>
<rect x="317.50" y="200.40" width="16.0" height="20.0" fill="#f6f6f6"/>
<rect x="317.50" y="208.60" width="16.0" height="5.40" fill="rgb(0,0,0)" filter="url(#bw)"/>
<rect x="335.80" y="200.40" width="16.0" height="20.0" fill="#f6f6f6"/>
<rect x="335.80" y="208.60" width="16.0" height="5.40" fill="rgb(0,0,0)" filter="url(#bw)"/>
<rect x="354.10" y="200.40" width="16.0" height="20.0" fill="#f6f6f6"/>
<rect x="354.10" y="208.60" width="16.0" height="5.40" fill="rgb(0,0,0)" filter="url(#bw)"/>
<rect x="372.40" y="200.40" width="16.0" height="20.0" fill="#f6f6f6"/>
<rect x="372.40" y="208.60" width="16.0" height="5.40" fill="rgb(0,0,0)" filter="url(#bw)"/>
<rect x="390.70" y="200.40" width="16.0" height="20.0" fill="#f6f6f6"/>
<rect x="390.70" y="208.60" width="16.0" height="5.40" fill="rgb(0,0,0)" filter="url(#bw)"/>
<rect x="409.00" y="200.40" width="16.0" height="20.0" fill="#f6f6f6"/>
<rect x="409.00" y="208.60" width="16.0" height="5.40" fill="rgb(0,0,0)" filter="url(#bw)"/>
<rect x="427.30" y="200.40" width="16.0" height="20.0" fill="#f6f6f6"/>
<rect x="427.30" y="208.60" width="16.0" height="5.40" fill="rgb(0,0,0)" filter="url(#bw)"/>
<rect x="297.6" y="199.4" width="146.39999999999998" height="22.0" fill="none" stroke="#000" stroke-width="1.25"/>
<rect x="292.6" y="205.70" width="4.6" height="1.1" fill="#111"/>
<text x="290.40" y="209.10" font-size="8.2" text-anchor="end" textLength="8.40" lengthAdjust="spacingAndGlyphs" fill="#222">66</text>
<text x="447.00" y="212.50" font-size="7.8" textLength="10.20" lengthAdjust="spacingAndGlyphs" fill="#222">Src</text>
<rect x="63.30" y="323.10" width="11.80" height="17.50" fill="#b8052f"/>
<line x1="69.20" y1="320.40" x2="69.20" y2="323.10" stroke="#111" stroke-width="1.15"/>
<line x1="66.30" y1="320.40" x2="72.10" y2="320.40" stroke="#111" stroke-width="1.2"/>
<rect x="75.10" y="318.10" width="11.80" height="22.50" fill="#2d5187"/>
<line x1="81.00" y1="315.10" x2="81.00" y2="318.10" stroke="#111" stroke-width="1.15"/>
<line x1="78.10" y1="315.10" x2="83.90" y2="315.10" stroke="#111" stroke-width="1.2"/>
<rect x="92.00" y="311.80" width="11.80" height="28.80" fill="#b8052f"/>
<line x1="97.90" y1="308.40" x2="97.90" y2="311.80" stroke="#111" stroke-width="1.15"/>
<line x1="95.00" y1="308.40" x2="100.80" y2="308.40" stroke="#111" stroke-width="1.2"/>
<rect x="103.80" y="285.90" width="11.80" height="54.70" fill="#2d5187"/>
<line x1="109.70" y1="281.40" x2="109.70" y2="285.90" stroke="#111" stroke-width="1.15"/>
<line x1="106.80" y1="281.40" x2="112.60" y2="281.40" stroke="#111" stroke-width="1.2"/>
<rect x="121.30" y="336.00" width="11.80" height="4.60" fill="#b8052f"/>
<rect x="133.10" y="335.10" width="11.80" height="5.50" fill="#2d5187"/>
<rect x="150.00" y="293.40" width="11.80" height="47.20" fill="#b8052f"/>
<line x1="155.90" y1="291.40" x2="155.90" y2="293.40" stroke="#111" stroke-width="1.15"/>
<line x1="153.00" y1="291.40" x2="158.80" y2="291.40" stroke="#111" stroke-width="1.2"/>
<rect x="161.80" y="291.40" width="11.80" height="49.20" fill="#2d5187"/>
<line x1="167.70" y1="287.00" x2="167.70" y2="291.40" stroke="#111" stroke-width="1.15"/>
<line x1="164.80" y1="287.00" x2="170.60" y2="287.00" stroke="#111" stroke-width="1.2"/>
<circle cx="69.20" cy="315.60" r="2.2" fill="#fff" stroke="#111" stroke-width="1.3"/>
<circle cx="69.50" cy="323.10" r="2.2" fill="#fff" stroke="#111" stroke-width="1.3"/>
<circle cx="72.50" cy="326.80" r="2.2" fill="#fff" stroke="#111" stroke-width="1.3"/>
<circle cx="65.80" cy="328.40" r="2.2" fill="#fff" stroke="#111" stroke-width="1.3"/>
<circle cx="78.00" cy="312.10" r="2.2" fill="#fff" stroke="#111" stroke-width="1.3"/>
<circle cx="78.00" cy="324.30" r="2.2" fill="#fff" stroke="#111" stroke-width="1.3"/>
<circle cx="83.00" cy="319.30" r="2.2" fill="#fff" stroke="#111" stroke-width="1.3"/>
<circle cx="86.40" cy="317.60" r="2.2" fill="#fff" stroke="#111" stroke-width="1.3"/>
<circle cx="98.10" cy="303.10" r="2.2" fill="#fff" stroke="#111" stroke-width="1.3"/>
<circle cx="95.40" cy="312.60" r="2.2" fill="#fff" stroke="#111" stroke-width="1.3"/>
<circle cx="100.10" cy="313.80" r="2.2" fill="#fff" stroke="#111" stroke-width="1.3"/>
<circle cx="98.10" cy="316.80" r="2.2" fill="#fff" stroke="#111" stroke-width="1.3"/>
<circle cx="94.85" cy="297.20" r="1.05" fill="#1a1a1a"/>
<circle cx="97.90" cy="297.20" r="1.05" fill="#1a1a1a"/>
<circle cx="100.95" cy="297.20" r="1.05" fill="#1a1a1a"/>
<circle cx="109.70" cy="273.40" r="2.2" fill="#fff" stroke="#111" stroke-width="1.3"/>
<circle cx="109.60" cy="285.90" r="2.2" fill="#fff" stroke="#111" stroke-width="1.3"/>
<circle cx="107.10" cy="295.10" r="2.2" fill="#fff" stroke="#111" stroke-width="1.3"/>
<circle cx="113.10" cy="291.70" r="2.2" fill="#fff" stroke="#111" stroke-width="1.3"/>
<circle cx="106.65" cy="268.00" r="1.05" fill="#1a1a1a"/>
<circle cx="109.70" cy="268.00" r="1.05" fill="#1a1a1a"/>
<circle cx="112.75" cy="268.00" r="1.05" fill="#1a1a1a"/>
<circle cx="123.80" cy="336.00" r="2.2" fill="#fff" stroke="#111" stroke-width="1.3"/>
<circle cx="126.30" cy="337.10" r="2.2" fill="#fff" stroke="#111" stroke-width="1.3"/>
<circle cx="130.50" cy="333.10" r="2.2" fill="#fff" stroke="#111" stroke-width="1.3"/>
<circle cx="122.75" cy="325.10" r="1.05" fill="#1a1a1a"/>
<circle cx="125.80" cy="325.10" r="1.05" fill="#1a1a1a"/>
<circle cx="128.85" cy="325.10" r="1.05" fill="#1a1a1a"/>
<circle cx="135.50" cy="334.30" r="2.2" fill="#fff" stroke="#111" stroke-width="1.3"/>
<circle cx="138.90" cy="331.00" r="2.2" fill="#fff" stroke="#111" stroke-width="1.3"/>
<circle cx="138.90" cy="337.10" r="2.2" fill="#fff" stroke="#111" stroke-width="1.3"/>
<circle cx="142.20" cy="336.50" r="2.2" fill="#fff" stroke="#111" stroke-width="1.3"/>
<circle cx="135.55" cy="324.80" r="1.05" fill="#1a1a1a"/>
<circle cx="138.60" cy="324.80" r="1.05" fill="#1a1a1a"/>
<circle cx="141.65" cy="324.80" r="1.05" fill="#1a1a1a"/>
<circle cx="155.60" cy="286.70" r="2.2" fill="#fff" stroke="#111" stroke-width="1.3"/>
<circle cx="153.40" cy="294.20" r="2.2" fill="#fff" stroke="#111" stroke-width="1.3"/>
<circle cx="158.10" cy="295.90" r="2.2" fill="#fff" stroke="#111" stroke-width="1.3"/>
<circle cx="156.10" cy="298.70" r="2.2" fill="#fff" stroke="#111" stroke-width="1.3"/>
<circle cx="152.75" cy="279.20" r="1.05" fill="#1a1a1a"/>
<circle cx="155.80" cy="279.20" r="1.05" fill="#1a1a1a"/>
<circle cx="158.85" cy="279.20" r="1.05" fill="#1a1a1a"/>
<circle cx="167.40" cy="277.50" r="2.2" fill="#fff" stroke="#111" stroke-width="1.3"/>
<circle cx="167.40" cy="291.40" r="2.2" fill="#fff" stroke="#111" stroke-width="1.3"/>
<circle cx="164.40" cy="301.40" r="2.2" fill="#fff" stroke="#111" stroke-width="1.3"/>
<circle cx="170.30" cy="297.60" r="2.2" fill="#fff" stroke="#111" stroke-width="1.3"/>
<circle cx="164.65" cy="272.00" r="1.05" fill="#1a1a1a"/>
<circle cx="167.70" cy="272.00" r="1.05" fill="#1a1a1a"/>
<circle cx="170.75" cy="272.00" r="1.05" fill="#1a1a1a"/>
<line x1="60.60" y1="263.50" x2="60.60" y2="341.25" stroke="#000" stroke-width="1.3"/>
<line x1="59.95" y1="340.60" x2="174.50" y2="340.60" stroke="#000" stroke-width="1.3"/>
<line x1="57.40" y1="265.00" x2="60.60" y2="265.00" stroke="#111" stroke-width="1.1"/>
<text x="54.80" y="267.70" font-size="8.3" text-anchor="end" textLength="26.60" lengthAdjust="spacingAndGlyphs" fill="#222">400000</text>
<line x1="57.40" y1="284.00" x2="60.60" y2="284.00" stroke="#111" stroke-width="1.1"/>
<text x="54.80" y="286.70" font-size="8.3" text-anchor="end" textLength="26.60" lengthAdjust="spacingAndGlyphs" fill="#222">300000</text>
<line x1="57.40" y1="303.00" x2="60.60" y2="303.00" stroke="#111" stroke-width="1.1"/>
<text x="54.80" y="305.70" font-size="8.3" text-anchor="end" textLength="26.60" lengthAdjust="spacingAndGlyphs" fill="#222">200000</text>
<line x1="57.40" y1="321.80" x2="60.60" y2="321.80" stroke="#111" stroke-width="1.1"/>
<text x="54.80" y="324.50" font-size="8.3" text-anchor="end" textLength="26.60" lengthAdjust="spacingAndGlyphs" fill="#222">100000</text>
<line x1="57.40" y1="340.60" x2="60.60" y2="340.60" stroke="#111" stroke-width="1.1"/>
<text x="54.80" y="343.30" font-size="8.3" text-anchor="end" textLength="4.43" lengthAdjust="spacingAndGlyphs" fill="#222">0</text>
<text x="0" y="0" font-size="8.6" text-anchor="middle" fill="#222" textLength="32" lengthAdjust="spacingAndGlyphs" transform="translate(22.80,301.30) rotate(-90)">Peak area</text>
<text x="90.50" y="256.90" font-size="8.6" font-weight="bold" textLength="56.40" lengthAdjust="spacingAndGlyphs" fill="#000">Src p-Tyr418</text>
<text x="74.90" y="352.40" font-size="8.2" text-anchor="middle" textLength="11.30" lengthAdjust="spacingAndGlyphs" fill="#222">WT</text>
<text x="104.30" y="352.40" font-size="8.2" text-anchor="middle" font-style="italic" textLength="12.60" lengthAdjust="spacingAndGlyphs" fill="#222">Csk</text>
<text x="104.30" y="361.20" font-size="8.2" text-anchor="middle" textLength="10.50" lengthAdjust="spacingAndGlyphs" fill="#222">KO</text>
<text x="133.50" y="352.40" font-size="8.2" text-anchor="middle" font-style="italic" textLength="24.60" lengthAdjust="spacingAndGlyphs" fill="#222">CD148</text>
<text x="133.50" y="361.20" font-size="8.2" text-anchor="middle" textLength="10.50" lengthAdjust="spacingAndGlyphs" fill="#222">KO</text>
<text x="162.00" y="352.40" font-size="8.2" text-anchor="middle" textLength="17.00" lengthAdjust="spacingAndGlyphs" fill="#222">DKO</text>
<rect x="235.00" y="320.10" width="12.00" height="20.50" fill="#b8052f"/>
<rect x="246.90" y="320.10" width="12.00" height="20.50" fill="#2d5187"/>
<rect x="276.40" y="339.80" width="12.00" height="0.80" fill="#2d5187"/>
<rect x="293.00" y="292.50" width="12.00" height="48.10" fill="#b8052f"/>
<line x1="299.00" y1="286.00" x2="299.00" y2="292.50" stroke="#111" stroke-width="1.15"/>
<line x1="296.10" y1="286.00" x2="301.90" y2="286.00" stroke="#111" stroke-width="1.2"/>
<rect x="305.00" y="292.50" width="12.00" height="48.10" fill="#2d5187"/>
<line x1="311.00" y1="287.20" x2="311.00" y2="292.50" stroke="#111" stroke-width="1.15"/>
<line x1="308.10" y1="287.20" x2="313.90" y2="287.20" stroke="#111" stroke-width="1.2"/>
<rect x="322.50" y="336.80" width="12.00" height="3.80" fill="#b8052f"/>
<rect x="334.40" y="332.50" width="12.00" height="8.10" fill="#2d5187"/>
<circle cx="238.00" cy="316.60" r="2.2" fill="#fff" stroke="#111" stroke-width="1.3"/>
<circle cx="244.20" cy="316.60" r="2.2" fill="#fff" stroke="#111" stroke-width="1.3"/>
<circle cx="244.20" cy="321.90" r="2.2" fill="#fff" stroke="#111" stroke-width="1.3"/>
<circle cx="238.00" cy="327.20" r="2.2" fill="#fff" stroke="#111" stroke-width="1.3"/>
<circle cx="250.40" cy="318.40" r="2.2" fill="#fff" stroke="#111" stroke-width="1.3"/>
<circle cx="254.80" cy="313.80" r="2.2" fill="#fff" stroke="#111" stroke-width="1.3"/>
<circle cx="253.00" cy="320.10" r="2.2" fill="#fff" stroke="#111" stroke-width="1.3"/>
<circle cx="252.70" cy="327.60" r="2.2" fill="#fff" stroke="#111" stroke-width="1.3"/>
<circle cx="266.30" cy="340.80" r="2.2" fill="#fff" stroke="#111" stroke-width="1.3"/>
<circle cx="269.30" cy="340.80" r="2.2" fill="#fff" stroke="#111" stroke-width="1.3"/>
<circle cx="272.50" cy="340.50" r="2.2" fill="#fff" stroke="#111" stroke-width="1.3"/>
<circle cx="267.35" cy="331.50" r="1.05" fill="#1a1a1a"/>
<circle cx="270.40" cy="331.50" r="1.05" fill="#1a1a1a"/>
<circle cx="273.45" cy="331.50" r="1.05" fill="#1a1a1a"/>
<circle cx="277.80" cy="339.60" r="2.2" fill="#fff" stroke="#111" stroke-width="1.3"/>
<circle cx="281.30" cy="339.10" r="2.2" fill="#fff" stroke="#111" stroke-width="1.3"/>
<circle cx="285.20" cy="337.30" r="2.2" fill="#fff" stroke="#111" stroke-width="1.3"/>
<circle cx="279.15" cy="326.70" r="1.05" fill="#1a1a1a"/>
<circle cx="282.20" cy="326.70" r="1.05" fill="#1a1a1a"/>
<circle cx="285.25" cy="326.70" r="1.05" fill="#1a1a1a"/>
<circle cx="299.00" cy="272.70" r="2.2" fill="#fff" stroke="#111" stroke-width="1.3"/>
<circle cx="296.00" cy="295.70" r="2.2" fill="#fff" stroke="#111" stroke-width="1.3"/>
<circle cx="302.20" cy="297.50" r="2.2" fill="#fff" stroke="#111" stroke-width="1.3"/>
<circle cx="299.00" cy="304.60" r="2.2" fill="#fff" stroke="#111" stroke-width="1.3"/>
<circle cx="295.95" cy="264.20" r="1.05" fill="#1a1a1a"/>
<circle cx="299.00" cy="264.20" r="1.05" fill="#1a1a1a"/>
<circle cx="302.05" cy="264.20" r="1.05" fill="#1a1a1a"/>
<circle cx="310.70" cy="278.40" r="2.2" fill="#fff" stroke="#111" stroke-width="1.3"/>
<circle cx="307.80" cy="293.00" r="2.2" fill="#fff" stroke="#111" stroke-width="1.3"/>
<circle cx="314.20" cy="293.60" r="2.2" fill="#fff" stroke="#111" stroke-width="1.3"/>
<circle cx="310.70" cy="308.10" r="2.2" fill="#fff" stroke="#111" stroke-width="1.3"/>
<circle cx="307.95" cy="270.00" r="1.05" fill="#1a1a1a"/>
<circle cx="311.00" cy="270.00" r="1.05" fill="#1a1a1a"/>
<circle cx="314.05" cy="270.00" r="1.05" fill="#1a1a1a"/>
<circle cx="325.20" cy="332.00" r="2.2" fill="#fff" stroke="#111" stroke-width="1.3"/>
<circle cx="325.20" cy="341.70" r="2.2" fill="#fff" stroke="#111" stroke-width="1.3"/>
<circle cx="331.40" cy="339.10" r="2.2" fill="#fff" stroke="#111" stroke-width="1.3"/>
<circle cx="325.35" cy="325.80" r="1.05" fill="#1a1a1a"/>
<circle cx="328.40" cy="325.80" r="1.05" fill="#1a1a1a"/>
<circle cx="331.45" cy="325.80" r="1.05" fill="#1a1a1a"/>
<circle cx="334.90" cy="335.50" r="2.2" fill="#fff" stroke="#111" stroke-width="1.3"/>
<circle cx="336.70" cy="331.50" r="2.2" fill="#fff" stroke="#111" stroke-width="1.3"/>
<circle cx="340.70" cy="329.00" r="2.2" fill="#fff" stroke="#111" stroke-width="1.3"/>
<circle cx="343.20" cy="332.50" r="2.2" fill="#fff" stroke="#111" stroke-width="1.3"/>
<circle cx="340.70" cy="336.80" r="2.2" fill="#fff" stroke="#111" stroke-width="1.3"/>
<circle cx="338.05" cy="320.50" r="1.05" fill="#1a1a1a"/>
<circle cx="341.10" cy="320.50" r="1.05" fill="#1a1a1a"/>
<circle cx="344.15" cy="320.50" r="1.05" fill="#1a1a1a"/>
<line x1="232.00" y1="259.60" x2="232.00" y2="341.25" stroke="#000" stroke-width="1.3"/>
<line x1="231.35" y1="340.60" x2="347.30" y2="340.60" stroke="#000" stroke-width="1.3"/>
<line x1="228.80" y1="261.20" x2="232.00" y2="261.20" stroke="#111" stroke-width="1.1"/>
<text x="226.00" y="263.90" font-size="8.3" text-anchor="end" textLength="21.60" lengthAdjust="spacingAndGlyphs" fill="#222">70000</text>
<line x1="228.80" y1="272.60" x2="232.00" y2="272.60" stroke="#111" stroke-width="1.1"/>
<text x="226.00" y="275.30" font-size="8.3" text-anchor="end" textLength="21.60" lengthAdjust="spacingAndGlyphs" fill="#222">60000</text>
<line x1="228.80" y1="284.00" x2="232.00" y2="284.00" stroke="#111" stroke-width="1.1"/>
<text x="226.00" y="286.70" font-size="8.3" text-anchor="end" textLength="21.60" lengthAdjust="spacingAndGlyphs" fill="#222">50000</text>
<line x1="228.80" y1="295.40" x2="232.00" y2="295.40" stroke="#111" stroke-width="1.1"/>
<text x="226.00" y="298.10" font-size="8.3" text-anchor="end" textLength="21.60" lengthAdjust="spacingAndGlyphs" fill="#222">40000</text>
<line x1="228.80" y1="306.80" x2="232.00" y2="306.80" stroke="#111" stroke-width="1.1"/>
<text x="226.00" y="309.50" font-size="8.3" text-anchor="end" textLength="21.60" lengthAdjust="spacingAndGlyphs" fill="#222">30000</text>
<line x1="228.80" y1="318.20" x2="232.00" y2="318.20" stroke="#111" stroke-width="1.1"/>
<text x="226.00" y="320.90" font-size="8.3" text-anchor="end" textLength="21.60" lengthAdjust="spacingAndGlyphs" fill="#222">20000</text>
<line x1="228.80" y1="329.40" x2="232.00" y2="329.40" stroke="#111" stroke-width="1.1"/>
<text x="226.00" y="332.10" font-size="8.3" text-anchor="end" textLength="21.60" lengthAdjust="spacingAndGlyphs" fill="#222">10000</text>
<line x1="228.80" y1="340.60" x2="232.00" y2="340.60" stroke="#111" stroke-width="1.1"/>
<text x="226.00" y="343.30" font-size="8.3" text-anchor="end" textLength="4.32" lengthAdjust="spacingAndGlyphs" fill="#222">0</text>
<text x="0" y="0" font-size="8.6" text-anchor="middle" fill="#222" textLength="32" lengthAdjust="spacingAndGlyphs" transform="translate(198.50,301.30) rotate(-90)">Peak area</text>
<text x="261.50" y="253.10" font-size="8.6" font-weight="bold" textLength="58.50" lengthAdjust="spacingAndGlyphs" fill="#000">Lyn p-Tyr507</text>
<text x="246.90" y="352.20" font-size="8.2" text-anchor="middle" textLength="11.30" lengthAdjust="spacingAndGlyphs" fill="#222">WT</text>
<text x="276.50" y="352.20" font-size="8.2" text-anchor="middle" font-style="italic" textLength="12.60" lengthAdjust="spacingAndGlyphs" fill="#222">Csk</text>
<text x="276.50" y="361.40" font-size="8.2" text-anchor="middle" textLength="10.50" lengthAdjust="spacingAndGlyphs" fill="#222">KO</text>
<text x="305.50" y="352.20" font-size="8.2" text-anchor="middle" font-style="italic" textLength="24.60" lengthAdjust="spacingAndGlyphs" fill="#222">CD148</text>
<text x="305.50" y="361.40" font-size="8.2" text-anchor="middle" textLength="10.50" lengthAdjust="spacingAndGlyphs" fill="#222">KO</text>
<text x="334.50" y="352.20" font-size="8.2" text-anchor="middle" textLength="17.00" lengthAdjust="spacingAndGlyphs" fill="#222">DKO</text>
<rect x="63.20" y="447.60" width="11.80" height="31.60" fill="#b8052f"/>
<line x1="69.10" y1="442.40" x2="69.10" y2="447.60" stroke="#111" stroke-width="1.15"/>
<line x1="66.20" y1="442.40" x2="72.00" y2="442.40" stroke="#111" stroke-width="1.2"/>
<rect x="75.00" y="440.70" width="11.80" height="38.50" fill="#2d5187"/>
<rect x="91.50" y="473.80" width="11.80" height="5.40" fill="#b8052f"/>
<rect x="103.40" y="468.50" width="11.80" height="10.70" fill="#2d5187"/>
<rect x="121.40" y="434.80" width="11.80" height="44.40" fill="#b8052f"/>
<line x1="127.30" y1="427.70" x2="127.30" y2="434.80" stroke="#111" stroke-width="1.15"/>
<line x1="124.40" y1="427.70" x2="130.20" y2="427.70" stroke="#111" stroke-width="1.2"/>
<rect x="133.40" y="435.40" width="11.80" height="43.80" fill="#2d5187"/>
<line x1="139.30" y1="428.30" x2="139.30" y2="435.40" stroke="#111" stroke-width="1.15"/>
<line x1="136.40" y1="428.30" x2="142.20" y2="428.30" stroke="#111" stroke-width="1.2"/>
<rect x="151.00" y="453.40" width="11.80" height="25.80" fill="#b8052f"/>
<rect x="162.80" y="456.10" width="11.80" height="23.10" fill="#2d5187"/>
<line x1="168.70" y1="451.60" x2="168.70" y2="456.10" stroke="#111" stroke-width="1.15"/>
<line x1="165.80" y1="451.60" x2="171.60" y2="451.60" stroke="#111" stroke-width="1.2"/>
<circle cx="69.20" cy="432.70" r="2.2" fill="#fff" stroke="#111" stroke-width="1.3"/>
<circle cx="68.80" cy="447.70" r="2.2" fill="#fff" stroke="#111" stroke-width="1.3"/>
<circle cx="72.00" cy="452.50" r="2.2" fill="#fff" stroke="#111" stroke-width="1.3"/>
<circle cx="66.20" cy="456.90" r="2.2" fill="#fff" stroke="#111" stroke-width="1.3"/>
<circle cx="80.90" cy="430.40" r="2.2" fill="#fff" stroke="#111" stroke-width="1.3"/>
<circle cx="80.90" cy="437.50" r="2.2" fill="#fff" stroke="#111" stroke-width="1.3"/>
<circle cx="83.40" cy="445.40" r="2.2" fill="#fff" stroke="#111" stroke-width="1.3"/>
<circle cx="77.70" cy="451.30" r="2.2" fill="#fff" stroke="#111" stroke-width="1.3"/>
<circle cx="94.00" cy="472.00" r="2.2" fill="#fff" stroke="#111" stroke-width="1.3"/>
<circle cx="96.30" cy="475.00" r="2.2" fill="#fff" stroke="#111" stroke-width="1.3"/>
<circle cx="101.00" cy="471.10" r="2.2" fill="#fff" stroke="#111" stroke-width="1.3"/>
<circle cx="94.45" cy="462.60" r="1.05" fill="#1a1a1a"/>
<circle cx="97.50" cy="462.60" r="1.05" fill="#1a1a1a"/>
<circle cx="100.55" cy="462.60" r="1.05" fill="#1a1a1a"/>
<circle cx="110.40" cy="463.10" r="2.2" fill="#fff" stroke="#111" stroke-width="1.3"/>
<circle cx="107.80" cy="467.90" r="2.2" fill="#fff" stroke="#111" stroke-width="1.3"/>
<circle cx="112.70" cy="471.50" r="2.2" fill="#fff" stroke="#111" stroke-width="1.3"/>
<circle cx="109.90" cy="472.90" r="2.2" fill="#fff" stroke="#111" stroke-width="1.3"/>
<circle cx="106.95" cy="456.10" r="1.05" fill="#1a1a1a"/>
<circle cx="110.00" cy="456.10" r="1.05" fill="#1a1a1a"/>
<circle cx="113.05" cy="456.10" r="1.05" fill="#1a1a1a"/>
<circle cx="127.20" cy="417.10" r="2.2" fill="#fff" stroke="#111" stroke-width="1.3"/>
<circle cx="127.20" cy="433.10" r="2.2" fill="#fff" stroke="#111" stroke-width="1.3"/>
<circle cx="124.20" cy="444.20" r="2.2" fill="#fff" stroke="#111" stroke-width="1.3"/>
<circle cx="130.00" cy="444.20" r="2.2" fill="#fff" stroke="#111" stroke-width="1.3"/>
<circle cx="124.15" cy="407.00" r="1.05" fill="#1a1a1a"/>
<circle cx="127.20" cy="407.00" r="1.05" fill="#1a1a1a"/>
<circle cx="130.25" cy="407.00" r="1.05" fill="#1a1a1a"/>
<circle cx="139.60" cy="417.10" r="2.2" fill="#fff" stroke="#111" stroke-width="1.3"/>
<circle cx="139.60" cy="431.30" r="2.2" fill="#fff" stroke="#111" stroke-width="1.3"/>
<circle cx="136.60" cy="449.90" r="2.2" fill="#fff" stroke="#111" stroke-width="1.3"/>
<circle cx="142.40" cy="445.40" r="2.2" fill="#fff" stroke="#111" stroke-width="1.3"/>
<circle cx="157.30" cy="450.20" r="2.2" fill="#fff" stroke="#111" stroke-width="1.3"/>
<circle cx="153.80" cy="455.50" r="2.2" fill="#fff" stroke="#111" stroke-width="1.3"/>
<circle cx="159.60" cy="456.90" r="2.2" fill="#fff" stroke="#111" stroke-width="1.3"/>
<circle cx="156.90" cy="462.60" r="2.2" fill="#fff" stroke="#111" stroke-width="1.3"/>
<circle cx="155.07" cy="441.90" r="1.05" fill="#1a1a1a"/>
<circle cx="158.12" cy="441.90" r="1.05" fill="#1a1a1a"/>
<circle cx="168.40" cy="442.40" r="2.2" fill="#fff" stroke="#111" stroke-width="1.3"/>
<circle cx="165.40" cy="457.80" r="2.2" fill="#fff" stroke="#111" stroke-width="1.3"/>
<circle cx="171.10" cy="459.10" r="2.2" fill="#fff" stroke="#111" stroke-width="1.3"/>
<circle cx="168.40" cy="464.00" r="2.2" fill="#fff" stroke="#111" stroke-width="1.3"/>
<circle cx="165.35" cy="433.60" r="1.05" fill="#1a1a1a"/>
<circle cx="168.40" cy="433.60" r="1.05" fill="#1a1a1a"/>
<circle cx="171.45" cy="433.60" r="1.05" fill="#1a1a1a"/>
<line x1="60.65" y1="397.20" x2="60.65" y2="479.85" stroke="#000" stroke-width="1.3"/>
<line x1="60.00" y1="479.20" x2="175.00" y2="479.20" stroke="#000" stroke-width="1.3"/>
<line x1="57.45" y1="399.50" x2="60.65" y2="399.50" stroke="#111" stroke-width="1.1"/>
<text x="55.00" y="402.20" font-size="8.3" text-anchor="end" textLength="26.90" lengthAdjust="spacingAndGlyphs" fill="#222">400000</text>
<line x1="57.45" y1="419.50" x2="60.65" y2="419.50" stroke="#111" stroke-width="1.1"/>
<text x="55.00" y="422.20" font-size="8.3" text-anchor="end" textLength="26.90" lengthAdjust="spacingAndGlyphs" fill="#222">300000</text>
<line x1="57.45" y1="439.40" x2="60.65" y2="439.40" stroke="#111" stroke-width="1.1"/>
<text x="55.00" y="442.10" font-size="8.3" text-anchor="end" textLength="26.90" lengthAdjust="spacingAndGlyphs" fill="#222">200000</text>
<line x1="57.45" y1="459.30" x2="60.65" y2="459.30" stroke="#111" stroke-width="1.1"/>
<text x="55.00" y="462.00" font-size="8.3" text-anchor="end" textLength="26.90" lengthAdjust="spacingAndGlyphs" fill="#222">100000</text>
<line x1="57.45" y1="479.20" x2="60.65" y2="479.20" stroke="#111" stroke-width="1.1"/>
<text x="55.00" y="481.90" font-size="8.3" text-anchor="end" textLength="4.48" lengthAdjust="spacingAndGlyphs" fill="#222">0</text>
<text x="0" y="0" font-size="8.6" text-anchor="middle" fill="#222" textLength="32" lengthAdjust="spacingAndGlyphs" transform="translate(22.90,438.50) rotate(-90)">Peak area</text>
<text x="90.50" y="387.60" font-size="8.6" font-weight="bold" textLength="56.40" lengthAdjust="spacingAndGlyphs" fill="#000">Src p-Tyr529</text>
<text x="74.90" y="490.50" font-size="8.7" text-anchor="middle" textLength="11.30" lengthAdjust="spacingAndGlyphs" fill="#222">WT</text>
<text x="104.30" y="490.50" font-size="8.7" text-anchor="middle" font-style="italic" textLength="12.60" lengthAdjust="spacingAndGlyphs" fill="#222">Csk</text>
<text x="104.30" y="499.50" font-size="8.7" text-anchor="middle" textLength="10.50" lengthAdjust="spacingAndGlyphs" fill="#222">KO</text>
<text x="133.60" y="490.50" font-size="8.7" text-anchor="middle" font-style="italic" textLength="24.60" lengthAdjust="spacingAndGlyphs" fill="#222">CD148</text>
<text x="133.60" y="499.50" font-size="8.7" text-anchor="middle" textLength="10.50" lengthAdjust="spacingAndGlyphs" fill="#222">KO</text>
<text x="162.50" y="490.50" font-size="8.7" text-anchor="middle" textLength="17.00" lengthAdjust="spacingAndGlyphs" fill="#222">DKO</text>
<rect x="233.90" y="444.20" width="12.00" height="35.00" fill="#b8052f"/>
<line x1="239.90" y1="438.40" x2="239.90" y2="444.20" stroke="#111" stroke-width="1.15"/>
<line x1="237.00" y1="438.40" x2="242.80" y2="438.40" stroke="#111" stroke-width="1.2"/>
<rect x="245.90" y="438.40" width="12.00" height="40.80" fill="#2d5187"/>
<rect x="261.50" y="476.80" width="12.00" height="2.40" fill="#b8052f"/>
<rect x="273.40" y="467.60" width="12.00" height="11.60" fill="#2d5187"/>
<rect x="290.40" y="432.50" width="12.00" height="46.70" fill="#b8052f"/>
<line x1="296.40" y1="427.40" x2="296.40" y2="432.50" stroke="#111" stroke-width="1.15"/>
<line x1="293.50" y1="427.40" x2="299.30" y2="427.40" stroke="#111" stroke-width="1.2"/>
<rect x="302.30" y="429.50" width="12.00" height="49.70" fill="#2d5187"/>
<line x1="308.30" y1="420.10" x2="308.30" y2="429.50" stroke="#111" stroke-width="1.15"/>
<line x1="305.40" y1="420.10" x2="311.20" y2="420.10" stroke="#111" stroke-width="1.2"/>
<rect x="318.20" y="457.30" width="12.00" height="21.90" fill="#b8052f"/>
<rect x="330.20" y="453.00" width="12.00" height="26.20" fill="#2d5187"/>
<line x1="336.20" y1="448.50" x2="336.20" y2="453.00" stroke="#111" stroke-width="1.15"/>
<line x1="333.30" y1="448.50" x2="339.10" y2="448.50" stroke="#111" stroke-width="1.2"/>
<circle cx="237.40" cy="433.10" r="2.2" fill="#fff" stroke="#111" stroke-width="1.3"/>
<circle cx="243.30" cy="437.50" r="2.2" fill="#fff" stroke="#111" stroke-width="1.3"/>
<circle cx="243.30" cy="451.60" r="2.2" fill="#fff" stroke="#111" stroke-width="1.3"/>
<circle cx="237.40" cy="454.80" r="2.2" fill="#fff" stroke="#111" stroke-width="1.3"/>
<circle cx="252.10" cy="423.70" r="2.2" fill="#fff" stroke="#111" stroke-width="1.3"/>
<circle cx="252.10" cy="433.60" r="2.2" fill="#fff" stroke="#111" stroke-width="1.3"/>
<circle cx="252.10" cy="443.70" r="2.2" fill="#fff" stroke="#111" stroke-width="1.3"/>
<circle cx="252.10" cy="454.30" r="2.2" fill="#fff" stroke="#111" stroke-width="1.3"/>
<circle cx="264.50" cy="474.60" r="2.2" fill="#fff" stroke="#111" stroke-width="1.3"/>
<circle cx="268.10" cy="476.80" r="2.2" fill="#fff" stroke="#111" stroke-width="1.3"/>
<circle cx="271.10" cy="472.90" r="2.2" fill="#fff" stroke="#111" stroke-width="1.3"/>
<circle cx="264.45" cy="465.80" r="1.05" fill="#1a1a1a"/>
<circle cx="267.50" cy="465.80" r="1.05" fill="#1a1a1a"/>
<circle cx="270.55" cy="465.80" r="1.05" fill="#1a1a1a"/>
<circle cx="276.40" cy="462.60" r="2.2" fill="#fff" stroke="#111" stroke-width="1.3"/>
<circle cx="282.20" cy="464.90" r="2.2" fill="#fff" stroke="#111" stroke-width="1.3"/>
<circle cx="276.90" cy="472.50" r="2.2" fill="#fff" stroke="#111" stroke-width="1.3"/>
<circle cx="282.70" cy="471.50" r="2.2" fill="#fff" stroke="#111" stroke-width="1.3"/>
<circle cx="276.85" cy="455.50" r="1.05" fill="#1a1a1a"/>
<circle cx="279.90" cy="455.50" r="1.05" fill="#1a1a1a"/>
<circle cx="282.95" cy="455.50" r="1.05" fill="#1a1a1a"/>
<circle cx="296.30" cy="420.70" r="2.2" fill="#fff" stroke="#111" stroke-width="1.3"/>
<circle cx="293.40" cy="430.00" r="2.2" fill="#fff" stroke="#111" stroke-width="1.3"/>
<circle cx="299.30" cy="435.40" r="2.2" fill="#fff" stroke="#111" stroke-width="1.3"/>
<circle cx="296.30" cy="446.30" r="2.2" fill="#fff" stroke="#111" stroke-width="1.3"/>
<circle cx="296.30" cy="412.30" r="1.05" fill="#1a1a1a"/>
<circle cx="308.10" cy="402.40" r="2.2" fill="#fff" stroke="#111" stroke-width="1.3"/>
<circle cx="308.10" cy="432.20" r="2.2" fill="#fff" stroke="#111" stroke-width="1.3"/>
<circle cx="311.10" cy="440.10" r="2.2" fill="#fff" stroke="#111" stroke-width="1.3"/>
<circle cx="305.10" cy="445.40" r="2.2" fill="#fff" stroke="#111" stroke-width="1.3"/>
<circle cx="322.30" cy="453.00" r="2.2" fill="#fff" stroke="#111" stroke-width="1.3"/>
<circle cx="327.60" cy="453.00" r="2.2" fill="#fff" stroke="#111" stroke-width="1.3"/>
<circle cx="324.60" cy="457.30" r="2.2" fill="#fff" stroke="#111" stroke-width="1.3"/>
<circle cx="324.60" cy="468.50" r="2.2" fill="#fff" stroke="#111" stroke-width="1.3"/>
<circle cx="323.08" cy="444.20" r="1.05" fill="#1a1a1a"/>
<circle cx="326.12" cy="444.20" r="1.05" fill="#1a1a1a"/>
<circle cx="335.60" cy="440.10" r="2.2" fill="#fff" stroke="#111" stroke-width="1.3"/>
<circle cx="333.40" cy="454.30" r="2.2" fill="#fff" stroke="#111" stroke-width="1.3"/>
<circle cx="338.20" cy="458.40" r="2.2" fill="#fff" stroke="#111" stroke-width="1.3"/>
<circle cx="335.60" cy="460.80" r="2.2" fill="#fff" stroke="#111" stroke-width="1.3"/>
<circle cx="334.88" cy="432.20" r="1.05" fill="#1a1a1a"/>
<circle cx="337.92" cy="432.20" r="1.05" fill="#1a1a1a"/>
<line x1="231.90" y1="397.50" x2="231.90" y2="479.85" stroke="#000" stroke-width="1.3"/>
<line x1="231.25" y1="479.20" x2="345.00" y2="479.20" stroke="#000" stroke-width="1.3"/>
<line x1="228.70" y1="399.50" x2="231.90" y2="399.50" stroke="#111" stroke-width="1.1"/>
<text x="225.80" y="402.20" font-size="8.3" text-anchor="end" textLength="26.20" lengthAdjust="spacingAndGlyphs" fill="#222">200000</text>
<line x1="228.70" y1="419.40" x2="231.90" y2="419.40" stroke="#111" stroke-width="1.1"/>
<text x="225.80" y="422.10" font-size="8.3" text-anchor="end" textLength="26.20" lengthAdjust="spacingAndGlyphs" fill="#222">150000</text>
<line x1="228.70" y1="439.40" x2="231.90" y2="439.40" stroke="#111" stroke-width="1.1"/>
<text x="225.80" y="442.10" font-size="8.3" text-anchor="end" textLength="26.20" lengthAdjust="spacingAndGlyphs" fill="#222">100000</text>
<line x1="228.70" y1="459.30" x2="231.90" y2="459.30" stroke="#111" stroke-width="1.1"/>
<text x="225.80" y="462.00" font-size="8.3" text-anchor="end" textLength="21.83" lengthAdjust="spacingAndGlyphs" fill="#222">50000</text>
<line x1="228.70" y1="479.20" x2="231.90" y2="479.20" stroke="#111" stroke-width="1.1"/>
<text x="225.80" y="481.90" font-size="8.3" text-anchor="end" textLength="4.37" lengthAdjust="spacingAndGlyphs" fill="#222">0</text>
<text x="0" y="0" font-size="8.6" text-anchor="middle" fill="#222" textLength="32" lengthAdjust="spacingAndGlyphs" transform="translate(194.20,438.30) rotate(-90)">Peak area</text>
<text x="258.90" y="386.50" font-size="8.6" font-weight="bold" textLength="58.80" lengthAdjust="spacingAndGlyphs" fill="#000">Fyn p-Tyr530</text>
<text x="246.10" y="490.50" font-size="8.7" text-anchor="middle" textLength="11.30" lengthAdjust="spacingAndGlyphs" fill="#222">WT</text>
<text x="274.00" y="490.50" font-size="8.7" text-anchor="middle" font-style="italic" textLength="12.60" lengthAdjust="spacingAndGlyphs" fill="#222">Csk</text>
<text x="274.00" y="499.50" font-size="8.7" text-anchor="middle" textLength="10.50" lengthAdjust="spacingAndGlyphs" fill="#222">KO</text>
<text x="302.50" y="490.50" font-size="8.7" text-anchor="middle" font-style="italic" textLength="24.60" lengthAdjust="spacingAndGlyphs" fill="#222">CD148</text>
<text x="302.50" y="499.50" font-size="8.7" text-anchor="middle" textLength="10.50" lengthAdjust="spacingAndGlyphs" fill="#222">KO</text>
<text x="330.50" y="490.50" font-size="8.7" text-anchor="middle" textLength="17.00" lengthAdjust="spacingAndGlyphs" fill="#222">DKO</text>
<rect x="397.40" y="478.60" width="12.20" height="0.60" fill="#b8052f"/>
<rect x="409.60" y="460.80" width="12.20" height="18.40" fill="#2d5187"/>
<line x1="415.70" y1="458.50" x2="415.70" y2="460.80" stroke="#111" stroke-width="1.15"/>
<line x1="412.80" y1="458.50" x2="418.60" y2="458.50" stroke="#111" stroke-width="1.2"/>
<rect x="426.70" y="476.80" width="12.20" height="2.40" fill="#b8052f"/>
<rect x="439.00" y="412.30" width="12.20" height="66.90" fill="#2d5187"/>
<line x1="445.10" y1="408.30" x2="445.10" y2="412.30" stroke="#111" stroke-width="1.15"/>
<line x1="442.20" y1="408.30" x2="448.00" y2="408.30" stroke="#111" stroke-width="1.2"/>
<rect x="456.80" y="478.60" width="12.20" height="0.60" fill="#b8052f"/>
<rect x="468.90" y="478.40" width="12.20" height="0.80" fill="#2d5187"/>
<rect x="485.80" y="478.60" width="12.20" height="0.60" fill="#b8052f"/>
<rect x="497.80" y="460.20" width="12.20" height="19.00" fill="#2d5187"/>
<line x1="503.90" y1="457.80" x2="503.90" y2="460.20" stroke="#111" stroke-width="1.15"/>
<line x1="501.00" y1="457.80" x2="506.80" y2="457.80" stroke="#111" stroke-width="1.2"/>
<circle cx="400.70" cy="476.80" r="2.2" fill="#fff" stroke="#111" stroke-width="1.3"/>
<circle cx="403.20" cy="479.10" r="2.2" fill="#fff" stroke="#111" stroke-width="1.3"/>
<circle cx="405.00" cy="477.80" r="2.2" fill="#fff" stroke="#111" stroke-width="1.3"/>
<circle cx="413.50" cy="457.30" r="2.2" fill="#fff" stroke="#111" stroke-width="1.3"/>
<circle cx="415.60" cy="463.70" r="2.2" fill="#fff" stroke="#111" stroke-width="1.3"/>
<circle cx="418.80" cy="461.90" r="2.2" fill="#fff" stroke="#111" stroke-width="1.3"/>
<circle cx="432.60" cy="471.50" r="2.2" fill="#fff" stroke="#111" stroke-width="1.3"/>
<circle cx="429.80" cy="479.60" r="2.2" fill="#fff" stroke="#111" stroke-width="1.3"/>
<circle cx="435.60" cy="479.60" r="2.2" fill="#fff" stroke="#111" stroke-width="1.3"/>
<circle cx="445.00" cy="404.20" r="2.2" fill="#fff" stroke="#111" stroke-width="1.3"/>
<circle cx="441.80" cy="419.80" r="2.2" fill="#fff" stroke="#111" stroke-width="1.3"/>
<circle cx="448.00" cy="416.60" r="2.2" fill="#fff" stroke="#111" stroke-width="1.3"/>
<circle cx="441.95" cy="396.40" r="1.05" fill="#1a1a1a"/>
<circle cx="445.00" cy="396.40" r="1.05" fill="#1a1a1a"/>
<circle cx="448.05" cy="396.40" r="1.05" fill="#1a1a1a"/>
<circle cx="460.00" cy="475.70" r="2.2" fill="#fff" stroke="#111" stroke-width="1.3"/>
<circle cx="462.30" cy="478.90" r="2.2" fill="#fff" stroke="#111" stroke-width="1.3"/>
<circle cx="465.10" cy="478.50" r="2.2" fill="#fff" stroke="#111" stroke-width="1.3"/>
<circle cx="472.00" cy="475.30" r="2.2" fill="#fff" stroke="#111" stroke-width="1.3"/>
<circle cx="474.30" cy="477.80" r="2.2" fill="#fff" stroke="#111" stroke-width="1.3"/>
<circle cx="477.40" cy="476.40" r="2.2" fill="#fff" stroke="#111" stroke-width="1.3"/>
<circle cx="475.40" cy="475.00" r="2.2" fill="#fff" stroke="#111" stroke-width="1.3"/>
<circle cx="473.18" cy="469.20" r="1.05" fill="#1a1a1a"/>
<circle cx="476.22" cy="469.20" r="1.05" fill="#1a1a1a"/>
<circle cx="488.50" cy="475.70" r="2.2" fill="#fff" stroke="#111" stroke-width="1.3"/>
<circle cx="491.60" cy="479.10" r="2.2" fill="#fff" stroke="#111" stroke-width="1.3"/>
<circle cx="494.00" cy="475.70" r="2.2" fill="#fff" stroke="#111" stroke-width="1.3"/>
<circle cx="504.00" cy="455.50" r="2.2" fill="#fff" stroke="#111" stroke-width="1.3"/>
<circle cx="506.30" cy="460.60" r="2.2" fill="#fff" stroke="#111" stroke-width="1.3"/>
<circle cx="500.40" cy="465.70" r="2.2" fill="#fff" stroke="#111" stroke-width="1.3"/>
<line x1="394.80" y1="398.00" x2="394.80" y2="479.85" stroke="#000" stroke-width="1.3"/>
<line x1="394.15" y1="479.20" x2="512.50" y2="479.20" stroke="#000" stroke-width="1.3"/>
<line x1="391.60" y1="401.00" x2="394.80" y2="401.00" stroke="#111" stroke-width="1.1"/>
<text x="389.20" y="403.70" font-size="8.3" text-anchor="end" textLength="22.40" lengthAdjust="spacingAndGlyphs" fill="#222">50000</text>
<line x1="391.60" y1="416.60" x2="394.80" y2="416.60" stroke="#111" stroke-width="1.1"/>
<text x="389.20" y="419.30" font-size="8.3" text-anchor="end" textLength="22.40" lengthAdjust="spacingAndGlyphs" fill="#222">40000</text>
<line x1="391.60" y1="432.20" x2="394.80" y2="432.20" stroke="#111" stroke-width="1.1"/>
<text x="389.20" y="434.90" font-size="8.3" text-anchor="end" textLength="22.40" lengthAdjust="spacingAndGlyphs" fill="#222">30000</text>
<line x1="391.60" y1="447.80" x2="394.80" y2="447.80" stroke="#111" stroke-width="1.1"/>
<text x="389.20" y="450.50" font-size="8.3" text-anchor="end" textLength="22.40" lengthAdjust="spacingAndGlyphs" fill="#222">20000</text>
<line x1="391.60" y1="463.40" x2="394.80" y2="463.40" stroke="#111" stroke-width="1.1"/>
<text x="389.20" y="466.10" font-size="8.3" text-anchor="end" textLength="22.40" lengthAdjust="spacingAndGlyphs" fill="#222">10000</text>
<line x1="391.60" y1="479.00" x2="394.80" y2="479.00" stroke="#111" stroke-width="1.1"/>
<text x="389.20" y="481.70" font-size="8.3" text-anchor="end" textLength="4.48" lengthAdjust="spacingAndGlyphs" fill="#222">0</text>
<text x="0" y="0" font-size="8.6" text-anchor="middle" fill="#222" textLength="32" lengthAdjust="spacingAndGlyphs" transform="translate(361.90,438.50) rotate(-90)">Peak area</text>
<text x="419.50" y="389.20" font-size="8.6" font-weight="bold" textLength="68.20" lengthAdjust="spacingAndGlyphs" fill="#000">Syk p-Tyr525/6</text>
<text x="409.60" y="490.50" font-size="8.7" text-anchor="middle" textLength="11.30" lengthAdjust="spacingAndGlyphs" fill="#222">WT</text>
<text x="438.80" y="490.50" font-size="8.7" text-anchor="middle" font-style="italic" textLength="12.60" lengthAdjust="spacingAndGlyphs" fill="#222">Csk</text>
<text x="438.80" y="499.50" font-size="8.7" text-anchor="middle" textLength="10.50" lengthAdjust="spacingAndGlyphs" fill="#222">KO</text>
<text x="468.60" y="490.50" font-size="8.7" text-anchor="middle" font-style="italic" textLength="24.60" lengthAdjust="spacingAndGlyphs" fill="#222">CD148</text>
<text x="468.60" y="499.50" font-size="8.7" text-anchor="middle" textLength="10.50" lengthAdjust="spacingAndGlyphs" fill="#222">KO</text>
<text x="497.00" y="490.50" font-size="8.7" text-anchor="middle" textLength="17.00" lengthAdjust="spacingAndGlyphs" fill="#222">DKO</text>
<rect x="363.0" y="287.3" width="17.8" height="5.4" fill="#b8052f"/>
<rect x="363.0" y="298.6" width="17.8" height="5.6" fill="#2d5187"/>
<text x="383.70" y="292.40" font-size="7.4" textLength="16.70" lengthAdjust="spacingAndGlyphs" fill="#222">basal</text>
<text x="383.70" y="303.90" font-size="7.4" textLength="35.90" lengthAdjust="spacingAndGlyphs" fill="#222">CLEC-2 Ab</text>
<rect x="0.5" y="0.5" width="519" height="508" fill="none" stroke="#000" stroke-width="1"/>
</svg></body></html>
